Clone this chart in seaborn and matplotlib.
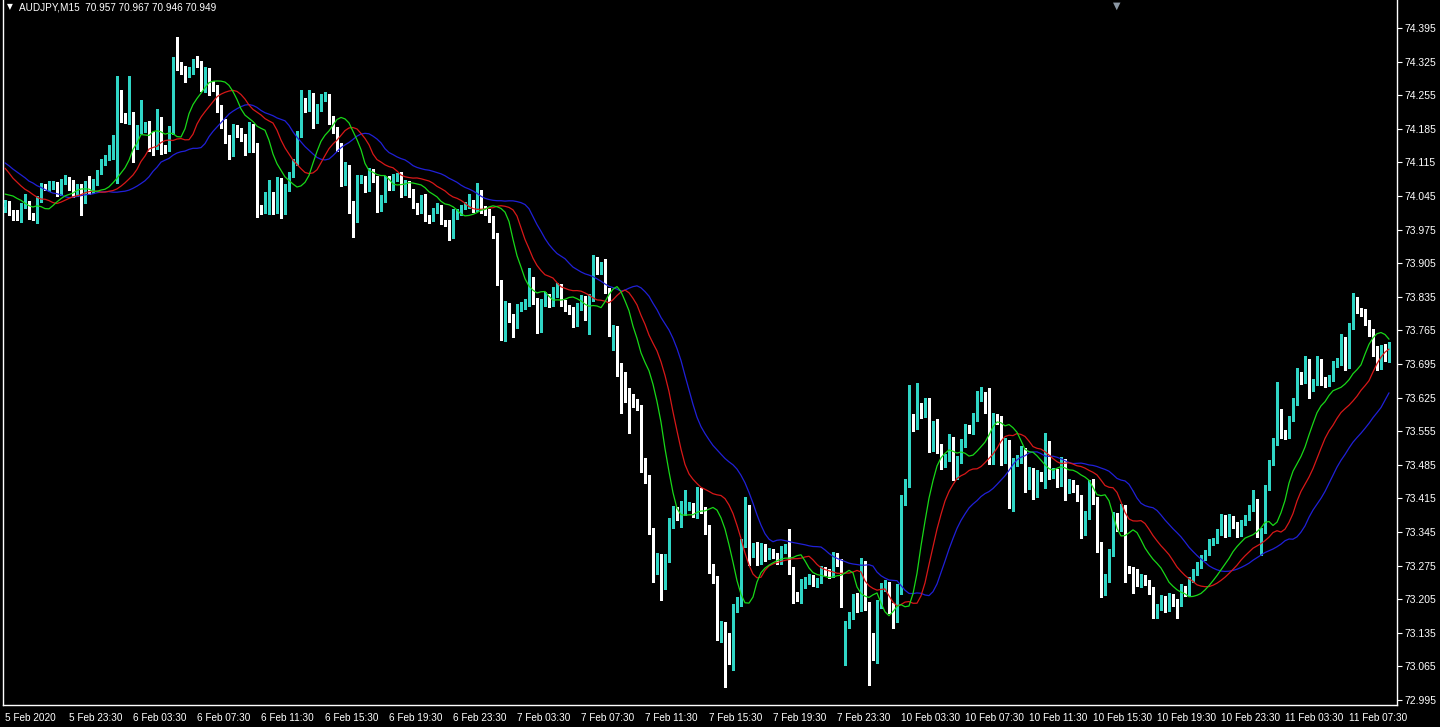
import numpy as np
import pandas as pd
import matplotlib
matplotlib.use("Agg")
import matplotlib.pyplot as plt
import seaborn as sns

# ---------------- data (AUDJPY M15) ----------------
title_text = "AUDJPY,M15  70.957 70.967 70.946 70.949"

first_open = 74.022
gap_bar = 210          # Monday open after the weekend
gap_open = 73.074

closes = [
    74.030, 74.012, 74.010, 74.001, 74.026, 74.032, 74.005, 74.001, 74.039, 74.064,
    74.062, 74.064, 74.070, 74.053, 74.074, 74.080, 74.064, 74.051, 74.064, 74.037,
    74.068, 74.057, 74.074, 74.095, 74.116, 74.126, 74.130, 74.162, 74.245, 74.210,
    74.203, 74.214, 74.151, 74.182, 74.189, 74.193, 74.168, 74.151, 74.203, 74.147,
    74.145, 74.182, 74.328, 74.314, 74.307, 74.303, 74.307, 74.322, 74.320, 74.272,
    74.303, 74.280, 74.270, 74.228, 74.197, 74.168, 74.135, 74.182, 74.178, 74.168,
    74.145, 74.189, 74.147, 74.022, 74.016, 74.043, 74.047, 74.016, 74.074, 74.016,
    74.062, 74.089, 74.116, 74.172, 74.245, 74.228, 74.255, 74.207, 74.228, 74.249,
    74.251, 74.203, 74.182, 74.147, 74.078, 74.103, 74.030, 74.001, 74.078, 74.080,
    74.062, 74.093, 74.082, 74.020, 74.041, 74.078, 74.064, 74.085, 74.087, 74.053,
    74.072, 74.051, 74.026, 74.016, 74.041, 73.999, 73.997, 74.016, 74.020, 73.991,
    73.989, 73.964, 74.010, 74.012, 74.022, 74.026, 74.032, 74.020, 74.051, 74.020,
    74.012, 73.999, 73.964, 73.864, 73.749, 73.818, 73.793, 73.782, 73.812, 73.818,
    73.822, 73.870, 73.828, 73.770, 73.822, 73.835, 73.822, 73.843, 73.853, 73.822,
    73.812, 73.807, 73.782, 73.814, 73.832, 73.797, 73.832, 73.907, 73.891, 73.901,
    73.849, 73.762, 73.770, 73.676, 73.672, 73.624, 73.620, 73.616, 73.605, 73.480,
    73.457, 73.349, 73.266, 73.293, 73.266, 73.291, 73.364, 73.391, 73.376, 73.388,
    73.397, 73.399, 73.385, 73.426, 73.391, 73.349, 73.270, 73.249, 73.135, 73.151,
    73.124, 73.078, 73.187, 73.203, 73.322, 73.380, 73.301, 73.314, 73.287, 73.314,
    73.297, 73.303, 73.297, 73.287, 73.308, 73.314, 73.266, 73.214, 73.210, 73.239,
    73.245, 73.249, 73.239, 73.245, 73.266, 73.262, 73.260, 73.293, 73.283, 73.241,
    73.151, 73.172, 73.207, 73.189, 73.276, 73.193, 73.126, 73.093, 73.193, 73.230,
    73.234, 73.187, 73.166, 73.228, 73.412, 73.447, 73.582, 73.568, 73.605, 73.593,
    73.614, 73.522, 73.568, 73.520, 73.489, 73.501, 73.537, 73.464, 73.495, 73.530,
    73.562, 73.557, 73.582, 73.626, 73.630, 73.603, 73.499, 73.585, 73.578, 73.495,
    73.530, 73.408, 73.491, 73.495, 73.512, 73.443, 73.470, 73.426, 73.464, 73.457,
    73.522, 73.464, 73.470, 73.447, 73.491, 73.432, 73.447, 73.437, 73.416, 73.345,
    73.380, 73.447, 73.412, 73.318, 73.220, 73.249, 73.301, 73.376, 73.355, 73.395,
    73.270, 73.266, 73.262, 73.239, 73.249, 73.241, 73.224, 73.176, 73.189, 73.207,
    73.187, 73.210, 73.199, 73.197, 73.228, 73.220, 73.245, 73.262, 73.276, 73.293,
    73.303, 73.324, 73.328, 73.345, 73.374, 73.343, 73.374, 73.360, 73.343, 73.364,
    73.376, 73.395, 73.408, 73.343, 73.349, 73.437, 73.491, 73.532, 73.595, 73.551,
    73.547, 73.582, 73.616, 73.672, 73.662, 73.699, 73.647, 73.658, 73.699, 73.662,
    73.655, 73.664, 73.697, 73.699, 73.745, 73.693, 73.772, 73.828, 73.807, 73.803,
    73.782, 73.762, 73.724, 73.693, 73.724, 73.708, 73.730,
]

# upper / lower shadow lengths in points (0.001)
wick_up = [
    6, 4, 3, 5, 4, 17, 3, 4, 5, 8, 6, 12, 7, 4, 6, 8, 5, 14, 6, 5,
    8, 19, 6, 5, 7, 4, 21, 10, 49, 20, 8, 80, 6, 10, 55, 6, 8, 10, 24, 6,
    5, 8, 6, 48, 10, 8, 6, 8, 14, 6, 10, 8, 5, 6, 6, 8, 5, 12, 10, 8,
    6, 10, 6, 8, 5, 10, 31, 6, 10, 8, 8, 6, 6, 8, 21, 5, 10, 4, 8, 8,
    10, 6, 8, 6, 8, 12, 6, 5, 10, 8, 6, 10, 8, 5, 6, 8, 8, 6, 5, 8,
    6, 5, 8, 5, 6, 8, 6, 5, 10, 6, 4, 5, 8, 6, 5, 6, 17, 5, 21, 6,
    5, 6, 4, 4, 5, 8, 5, 6, 8, 6, 8, 25, 6, 5, 8, 10, 6, 12, 10, 8,
    6, 5, 6, 8, 6, 5, 8, 15, 10, 6, 12, 5, 6, 5, 21, 6, 21, 12, 6, 5,
    20, 6, 5, 8, 6, 8, 10, 8, 6, 21, 35, 8, 6, 12, 10, 6, 10, 8, 5, 8,
    6, 10, 8, 6, 8, 37, 21, 8, 10, 8, 6, 8, 6, 5, 8, 6, 37, 6, 6, 8,
    6, 8, 6, 5, 8, 6, 6, 10, 8, 6, 8, 6, 8, 10, 15, 8, 6, 8, 10, 8,
    12, 6, 10, 8, 10, 8, 69, 8, 50, 8, 10, 10, 8, 12, 8, 6, 12, 6, 8, 8,
    8, 6, 10, 12, 17, 6, 42, 8, 6, 8, 10, 6, 8, 10, 12, 8, 10, 8, 10, 6,
    29, 12, 8, 6, 10, 6, 8, 6, 5, 6, 8, 6, 8, 5, 6, 8, 8, 10, 8, 8,
    6, 5, 6, 5, 8, 6, 5, 6, 5, 6, 5, 8, 5, 6, 8, 5, 6, 5, 6, 5,
    5, 6, 5, 6, 8, 6, 8, 5, 6, 6, 5, 6, 25, 6, 5, 6, 5, 8, 62, 6,
    6, 5, 8, 15, 6, 12, 6, 6, 12, 6, 6, 8, 5, 8, 12, 6, 8, 15, 6, 5,
    6, 5, 6, 8, 10, 12, 10,
]
wick_dn = [
    10, 6, 14, 6, 10, 5, 8, 6, 12, 6, 4, 6, 5, 8, 6, 5, 6, 8, 5, 31,
    6, 8, 5, 6, 5, 6, 5, 8, 90, 10, 6, 8, 35, 8, 6, 10, 30, 20, 8, 14,
    10, 6, 8, 6, 8, 20, 10, 8, 6, 8, 10, 25, 6, 8, 10, 12, 12, 6, 10, 8,
    14, 8, 10, 21, 8, 6, 35, 8, 6, 17, 8, 6, 5, 6, 5, 8, 6, 21, 10, 6,
    6, 8, 6, 8, 12, 10, 20, 41, 10, 6, 8, 6, 8, 8, 6, 8, 6, 6, 8, 10,
    6, 8, 6, 8, 6, 6, 8, 5, 6, 5, 6, 10, 6, 12, 6, 5, 6, 8, 6, 10,
    6, 8, 6, 5, 5, 6, 10, 31, 12, 6, 8, 6, 8, 10, 8, 6, 8, 6, 8, 6,
    6, 8, 10, 8, 6, 10, 40, 6, 8, 8, 6, 8, 37, 6, 79, 8, 69, 10, 6, 10,
    10, 8, 25, 8, 62, 40, 8, 10, 6, 21, 8, 6, 8, 10, 6, 8, 10, 10, 15, 20,
    102, 8, 20, 8, 12, 8, 25, 8, 10, 8, 12, 8, 6, 8, 8, 6, 8, 17, 8, 12,
    10, 8, 6, 8, 6, 6, 10, 8, 8, 52, 6, 6, 8, 10, 8, 10, 100, 15, 20, 6,
    8, 10, 20, 8, 12, 10, 8, 12, 8, 10, 8, 10, 8, 10, 12, 8, 8, 10, 8, 6,
    8, 6, 8, 6, 8, 10, 12, 12, 8, 10, 6, 12, 20, 8, 6, 15, 8, 12, 8, 6,
    20, 8, 6, 8, 6, 20, 6, 8, 6, 12, 6, 8, 8, 15, 10, 6, 8, 6, 8, 8,
    29, 6, 44, 6, 8, 6, 8, 10, 10, 6, 8, 6, 8, 31, 6, 8, 6, 5, 6, 5,
    6, 5, 6, 5, 6, 8, 6, 6, 8, 6, 5, 6, 6, 8, 46, 6, 5, 6, 6, 10,
    8, 6, 5, 6, 8, 6, 23, 8, 6, 10, 8, 6, 5, 8, 6, 10, 6, 5, 6, 8,
    6, 8, 12, 10, 8, 6, 8,
]

# Alligator (SMMA of median price): periods, forward shifts,
# the shifted-in values visible at the left edge, and the SMMA state before bar 0
alligator_names = ["jaw", "teeth", "lips"]
alligator_periods = [13, 8, 5]
alligator_shifts = [8, 5, 3]
jaw_head = [74.114, 74.108, 74.101, 74.095, 74.089, 74.083, 74.076, 74.072]
teeth_head = [74.103, 74.093, 74.082, 74.074, 74.066]
lips_head = [74.049, 74.047, 74.045]
alligator_seed = [74.070, 74.064, 74.044]

y_ticks = [72.995, 73.065, 73.135, 73.205, 73.275, 73.345, 73.415, 73.485, 73.555,
           73.625, 73.695, 73.765, 73.835, 73.905, 73.975, 74.045, 74.115, 74.185,
           74.255, 74.325, 74.395]
x_tick_bars = [0, 16, 32, 48, 64, 80, 96, 112, 128, 144, 160, 176, 192, 208, 224,
               240, 256, 272, 288, 304, 320, 336]
x_tick_labels = ["5 Feb 2020", "5 Feb 23:30", "6 Feb 03:30", "6 Feb 07:30", "6 Feb 11:30",
                 "6 Feb 15:30", "6 Feb 19:30", "6 Feb 23:30", "7 Feb 03:30", "7 Feb 07:30",
                 "7 Feb 11:30", "7 Feb 15:30", "7 Feb 19:30", "7 Feb 23:30", "10 Feb 03:30",
                 "10 Feb 07:30", "10 Feb 11:30", "10 Feb 15:30", "10 Feb 19:30",
                 "10 Feb 23:30", "11 Feb 03:30", "11 Feb 07:30"]

# ---------------- styling ----------------
BULL = "#2fd5c5"
BEAR = "#ffffff"
LINE_COLORS = {"jaw": "#2020d8", "teeth": "#d81818", "lips": "#18d818"}

sns.set_theme(style="dark")
plt.rcParams["font.family"] = ["Liberation Sans", "DejaVu Sans"]

W, H = 1440, 727
fig = plt.figure(figsize=(W / 100, H / 100), dpi=100, facecolor="black")
L, R, T, B = 3, 1397, 0, 705
ax = fig.add_axes([L / W, (H - B) / H, (R - L) / W, (B - T) / H], facecolor="black")

# ---------------- candles ----------------
c = np.array(closes)
n = len(c)
xs = np.arange(n)
o = np.concatenate([[first_open], c[:-1]])
o[gap_bar] = gap_open
hi = np.maximum(o, c) + np.array(wick_up) / 1000.0
lo = np.minimum(o, c) - np.array(wick_dn) / 1000.0
bull = c >= o
cols = np.where(bull, BULL, BEAR)

ax.vlines(xs, lo, hi, colors=cols, linewidth=0.75, antialiased=False, zorder=2)
body_h = np.maximum(np.abs(c - o), 0.0012)
ax.bar(xs, body_h, bottom=np.minimum(o, c), width=0.72, color=cols,
       linewidth=0, antialiased=False, zorder=3)

# ---------------- alligator ----------------
median = (hi + lo) / 2.0
heads = [jaw_head, teeth_head, lips_head]
frames = []
for name, per, sh, head, seed in zip(alligator_names, alligator_periods,
                                     alligator_shifts, heads, alligator_seed):
    vals = []
    prev = seed
    for v in median:
        prev = (prev * (per - 1) + v) / per
        vals.append(prev)
    line = list(head) + vals[: n - sh]
    frames.append(pd.DataFrame({"bar": xs, "value": line, "line": name}))
df = pd.concat(frames, ignore_index=True)
sns.lineplot(data=df, x="bar", y="value", hue="line", palette=LINE_COLORS,
             linewidth=0.9, legend=False, ax=ax, zorder=4, sort=False,
             estimator=None)

# ---------------- axes ----------------
ax.set_xlim(-0.5, -0.5 + (R - L) / 4.0)
ytop = 74.395 + 28 / 480.0
ax.set_ylim(ytop - B / 480.0, ytop)
ax.grid(False)
for side in ["left", "right", "bottom"]:
    ax.spines[side].set_visible(True)
    ax.spines[side].set_color("white")
    ax.spines[side].set_linewidth(1.0)
ax.spines["top"].set_visible(False)

ax.yaxis.tick_right()
ax.set_yticks(y_ticks)
ax.set_yticklabels([f"{v:.3f}" for v in y_ticks])
ax.tick_params(axis="y", colors="white", labelcolor="white", direction="out",
               length=3.5, width=0.8, pad=2, labelsize=7.5, left=False, right=True)
ax.set_xticks(x_tick_bars)
ax.set_xticklabels(x_tick_labels)
ax.tick_params(axis="x", colors="white", labelcolor="white", direction="out",
               length=3.5, width=0.8, pad=2, labelsize=7.2)
for lab in ax.get_xticklabels():
    lab.set_horizontalalignment("left")
ax.set_xlabel("")
ax.set_ylabel("")

# header text
fig.text(7 / W, 1 - 7 / H, "\u25bc", color="white", fontsize=5.5, va="center", ha="left",
         family=["DejaVu Sans"])
fig.text(19 / W, 1 - 7 / H, title_text, color="white", fontsize=7.2, va="center", ha="left")
# chart shift marker at the top edge
fig.text(1117 / W, 1 - 0.5 / H, "\u25bc", color="#8c98a4", fontsize=7, va="top",
         ha="center", family=["DejaVu Sans"])

fig.savefig("out.png", dpi=100, facecolor="black")
